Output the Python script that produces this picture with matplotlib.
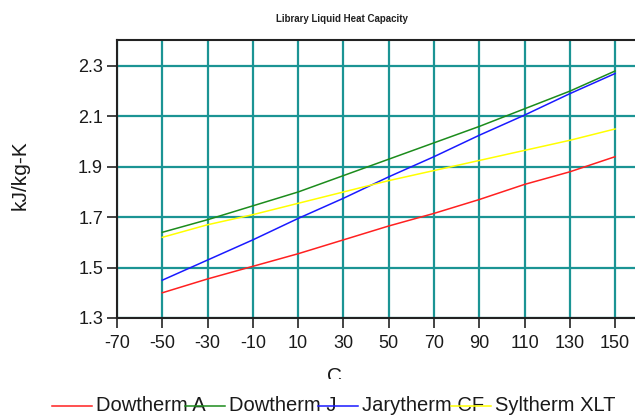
#!/usr/bin/env python3
import matplotlib
matplotlib.use("Agg")
import matplotlib.pyplot as plt
from matplotlib.lines import Line2D
from matplotlib.transforms import Bbox, TransformedBbox

# temperature (C)
temps = [-50, -30, -10, 10, 30, 50, 70, 90, 110, 130, 150]

# heat capacity kJ/kg-K
dowtherm_a = [1.40, 1.455, 1.505, 1.555, 1.61, 1.665, 1.715, 1.77, 1.83, 1.88, 1.94]
dowtherm_j = [1.64, 1.69, 1.745, 1.80, 1.865, 1.93, 1.995, 2.06, 2.13, 2.20, 2.28]
jarytherm_cf = [1.45, 1.53, 1.61, 1.695, 1.775, 1.86, 1.94, 2.025, 2.105, 2.19, 2.27]
syltherm_xlt = [1.62, 1.67, 1.71, 1.755, 1.80, 1.845, 1.885, 1.925, 1.965, 2.005, 2.05]

names = ["Dowtherm A", "Dowtherm J", "Jarytherm CF", "Syltherm XLT"]
series = [dowtherm_a, dowtherm_j, jarytherm_cf, syltherm_xlt]
colors = ["#ff2020", "#1c8c1c", "#1a1aff", "#ffff00"]

xticks = list(range(-70, 151, 20))
yticks = [1.3, 1.5, 1.7, 1.9, 2.1, 2.3]

plt.rcParams["font.family"] = ["Liberation Sans", "DejaVu Sans"]
plt.rcParams["axes.unicode_minus"] = False

fig = plt.figure(figsize=(6.35, 4.17), dpi=100)
ax = fig.add_axes([117 / 635, 1 - 318 / 417, 1 - 117 / 635, 278 / 417])

for vals, col in zip(series, colors):
    ax.plot(temps, vals, color=col, lw=1.1, zorder=3)

ax.set_xlim(-70, 158.8)
ax.set_ylim(1.3, 2.403)
ax.set_xticks(xticks)
ax.set_yticks(yticks)
ax.set_yticklabels(["%.1f" % v for v in yticks])
ax.grid(True, color="#1b9494", lw=1.6, zorder=1)
ax.set_axisbelow(True)

for s in ["top", "left", "bottom"]:
    ax.spines[s].set_color("#222222")
    ax.spines[s].set_linewidth(1.5)
ax.spines["right"].set_visible(False)
ax.tick_params(axis="both", direction="out", length=7, width=1.2, color="#222222",
               labelsize=13, labelcolor="#1a1a1a")
ax.tick_params(axis="x", pad=5)
ax.tick_params(axis="y", pad=3)

# title and axis labels
fig.text(342 / 635, 1 - 19 / 417, "Library Liquid Heat Capacity", ha="center", va="center",
         fontsize=7, fontweight="bold", color="#222222")
fig.text(20 / 635, 1 - 175 / 417, "kJ/kg-K", rotation=90, ha="center", va="center",
         fontsize=15, color="#1a1a1a")
xl = fig.text(335 / 635, 1 - 367 / 417, "C", ha="center", va="top",
              fontsize=15, color="#1a1a1a")
xl.set_clip_box(TransformedBbox(Bbox([[0, 1 - 379 / 417], [1, 1]]), fig.transFigure))
xl.set_clip_on(True)

# legend, fixed-width slots like the original
y_leg = 1 - 405.5 / 417
for i, (name, col) in enumerate(zip(names, colors)):
    x0 = 52 + 133 * i
    fig.add_artist(Line2D([x0 / 635, (x0 + 40) / 635], [y_leg, y_leg], color=col, lw=1.1, zorder=5))
    fig.text((x0 + 44) / 635, y_leg, name, ha="left", va="center", fontsize=14.5,
             color="#1a1a1a", zorder=4)

plt.savefig("out.png", dpi=100)
